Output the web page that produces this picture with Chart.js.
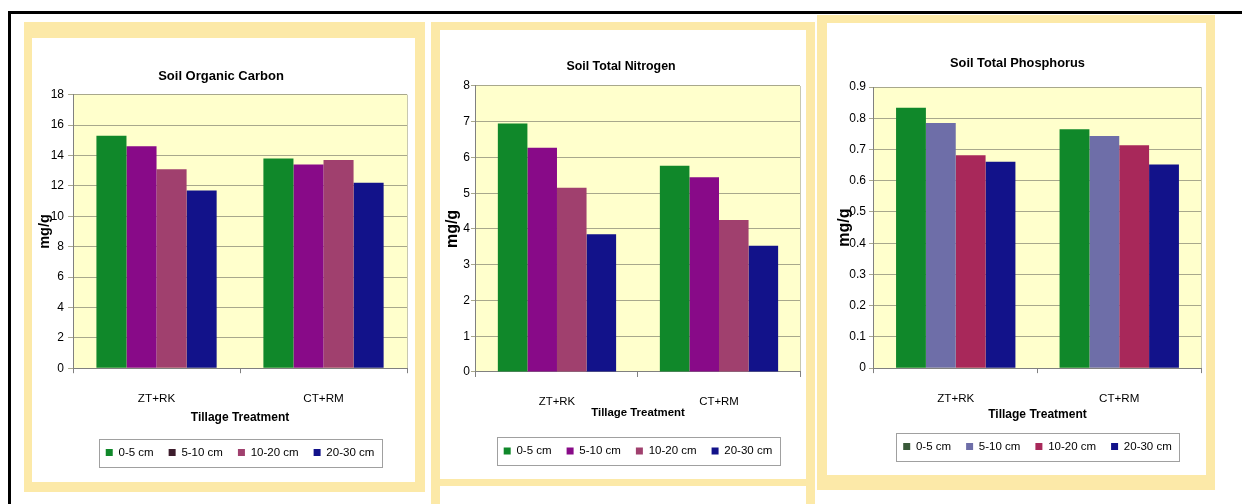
<!DOCTYPE html>
<html lang="en">
<head>
<meta charset="UTF-8">
<title>Soil nutrients by tillage treatment</title>
<script src="https://cdn.jsdelivr.net/npm/chart.js"></script>
<style>
  body { margin: 0; width: 1242px; height: 504px; background: #fff; position: relative; overflow: hidden; }
  .outline { position: absolute; left: 8px; top: 11px; width: 1240px; height: 500px; border-left: 3px solid #000; border-top: 3px solid #000; }
  .frame { position: absolute; background: #fff; border-style: solid; border-color: #fce9a8; box-sizing: border-box; }
  .strip { position: absolute; background: #fce9a8; }
  .frame canvas { position: absolute; left: 0; top: 0; }
</style>
</head>
<body>
<div class="outline"></div>

<div class="frame" style="left:24px; top:22px; width:401px; height:470px; border-width:16px 10px 10px 8px;">
  <canvas id="carbon" width="383" height="444"></canvas>
</div>

<div class="frame" style="left:431px; top:22px; width:384px; height:464px; border-width:8px 9px 7px 9px;">
  <canvas id="nitrogen" width="366" height="449"></canvas>
</div>
<div class="strip" style="left:431px; top:486px; width:9px; height:18px;"></div>
<div class="strip" style="left:806px; top:486px; width:9px; height:18px;"></div>

<div class="frame" style="left:817px; top:15px; width:398px; height:475px; border-width:8px 9px 15px 10px;">
  <canvas id="phosphorus" width="379" height="452"></canvas>
</div>

<script>
const categories = ["ZT+RK", "CT+RM"];
const depths = ["0-5 cm", "5-10 cm", "10-20 cm", "20-30 cm"];

// values per depth
const carbonZT = [15.3, 14.6, 13.1, 11.7];
const carbonCT = [13.8, 13.4, 13.7, 12.2];
const nitrogenZT = [6.95, 6.27, 5.15, 3.85];
const nitrogenCT = [5.77, 5.45, 4.25, 3.53];
const phosphorusZT = [0.834, 0.785, 0.682, 0.661];
const phosphorusCT = [0.765, 0.743, 0.714, 0.652];

const carbonTicks = { max: 18, step: 2 };
const nitrogenTicks = { max: 8, step: 1 };
const phosphorusTicks = { max: 0.9, step: 0.1 };

Chart.defaults.font.family = '"Liberation Sans", Arial, sans-serif';
Chart.defaults.color = "#000";
Chart.defaults.animation = false;

// yellow plot area and the boxed legend, like the spreadsheet charts
const excelLook = {
  id: "excelLook",
  beforeDraw(chart) {
    const { ctx, chartArea: a } = chart;
    ctx.save();
    ctx.fillStyle = "#ffffcc";
    ctx.fillRect(a.left, a.top, a.width, a.height);
    ctx.strokeStyle = "#c8c8b0";
    ctx.lineWidth = 1;
    ctx.beginPath();
    ctx.moveTo(a.right + 0.5, a.top);
    ctx.lineTo(a.right + 0.5, a.bottom);
    ctx.stroke();
    ctx.restore();
  },
  afterDraw(chart) {
    const hb = chart.legend.legendHitBoxes;
    if (!hb || !hb.length) return;
    const l = Math.min(...hb.map(h => h.left)) - 7;
    const r = Math.max(...hb.map(h => h.left + h.width)) + 7;
    const t = Math.min(...hb.map(h => h.top)) - 8;
    const b = Math.max(...hb.map(h => h.top + h.height)) + 8;
    const ctx = chart.ctx;
    ctx.save();
    ctx.strokeStyle = "#a0a0a0";
    ctx.lineWidth = 1;
    ctx.strokeRect(Math.round(l) + 0.5, Math.round(t) + 0.5, Math.round(r - l), Math.round(b - t));
    ctx.restore();
  }
};

function makeChart(id, title, zt, ct, ticks, barColors, swatchColors, lay) {
  new Chart(document.getElementById(id), {
    type: "bar",
    data: {
      labels: categories,
      datasets: depths.map((d, i) => ({
        label: d,
        data: [zt[i], ct[i]],
        backgroundColor: barColors[i],
        borderWidth: 0,
        barPercentage: 1,
        categoryPercentage: lay.groupWidth
      }))
    },
    options: {
      responsive: false,
      layout: { padding: lay.padding },
      plugins: {
        title: {
          display: true, text: title, color: "#000",
          font: { size: lay.titleSize, weight: "bold" },
          padding: lay.titlePad
        },
        legend: {
          position: "bottom",
          fullSize: false,
          labels: {
            boxWidth: 7, boxHeight: 7, padding: 15,
            color: "#222", font: { size: 11.5 },
            generateLabels() {
              return depths.map((d, i) => ({
                text: d, fillStyle: swatchColors[i], strokeStyle: swatchColors[i],
                lineWidth: 0, datasetIndex: i, hidden: false
              }));
            }
          }
        },
        tooltip: { enabled: false }
      },
      scales: {
        x: {
          grid: { drawOnChartArea: false, tickLength: 5, color: "#808080", offset: true },
          border: { color: "#808080" },
          ticks: { padding: lay.xTickPad, font: { size: lay.xTickSize } },
          title: {
            display: true, text: "Tillage Treatment",
            font: { size: lay.xTitleSize, weight: "bold" },
            padding: lay.xTitlePad
          }
        },
        y: {
          min: 0, max: ticks.max,
          grid: { color: "#a8a88c", tickLength: 5 },
          border: { color: "#808080" },
          ticks: {
            stepSize: ticks.step, padding: lay.yTickPad, font: { size: 12 },
            callback: v => String(Math.round(v * 10) / 10)
          },
          title: {
            display: true, text: "mg/g",
            font: { size: lay.yTitleSize, weight: "bold" },
            padding: lay.yTitlePad
          }
        }
      }
    },
    plugins: [excelLook]
  });
}

const green = "#10882a", purple = "#880a88", mauve = "#a0406e", navy = "#12128a";

makeChart("carbon", "Soil Organic Carbon", carbonZT, carbonCT, carbonTicks,
  [green, purple, mauve, navy],
  [green, "#3c1c2c", mauve, navy],
  { groupWidth: 0.72, padding: { top: 20, left: 3, right: 8, bottom: 13.75 },
    titleSize: 13, titlePad: { top: 10.2, bottom: 10.9 },
    xTickSize: 11.7, xTickPad: 19, xTitleSize: 12, xTitlePad: { top: -14.4, bottom: 6.5 },
    yTickPad: 4, yTitleSize: 14.5, yTitlePad: { top: 1.3, bottom: -7 } });

makeChart("nitrogen", "Soil Total Nitrogen", nitrogenZT, nitrogenCT, nitrogenTicks,
  [green, purple, mauve, navy],
  [green, purple, mauve, navy],
  { groupWidth: 0.73, padding: { top: 19, left: 2, right: 6, bottom: 12.25 },
    titleSize: 12.4, titlePad: { top: 10.6, bottom: 11.5 },
    xTickSize: 11.4, xTickPad: 18.2, xTitleSize: 11.4, xTitlePad: { top: -21, bottom: 10.5 },
    yTickPad: 1, yTitleSize: 16, yTitlePad: { top: 1.4, bottom: -0.3 } });

makeChart("phosphorus", "Soil Total Phosphorus", phosphorusZT, phosphorusCT, phosphorusTicks,
  [green, "#6e6ea8", "#a8285a", navy],
  ["#3a5a3a", "#6e6ea8", "#a8285a", navy],
  { groupWidth: 0.73, padding: { top: 22, left: 7, right: 5, bottom: 12.75 },
    titleSize: 12.8, titlePad: { top: 10.4, bottom: 16.3 },
    xTickSize: 11.6, xTickPad: 19, xTitleSize: 12, xTitlePad: { top: -17.2, bottom: 3.5 },
    yTickPad: 3, yTitleSize: 16, yTitlePad: { top: 1.4, bottom: -8.3 } });
</script>
</body>
</html>
